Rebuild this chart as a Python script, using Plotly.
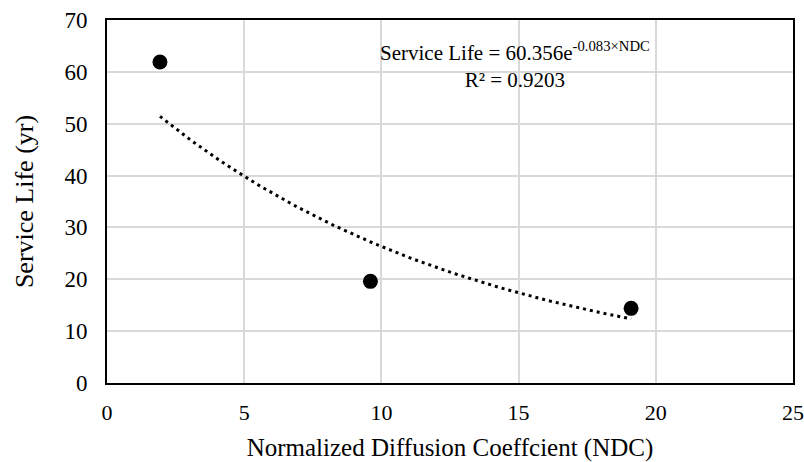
import numpy as np
import plotly.graph_objects as go

# Data
ndc = [1.93, 9.6, 19.1]
service_life = [61.9, 19.6, 14.4]

# Displayed exponential trendline coefficients
coef_a = 60.356
coef_b = -0.083
r_squared = 0.9203

x_ticks = [0, 5, 10, 15, 20, 25]
y_ticks = [0, 10, 20, 30, 40, 50, 60, 70]

FONT = "Liberation Serif"

trend_x = np.linspace(min(ndc), max(ndc), 100)
trend_y = coef_a * np.exp(coef_b * trend_x)

fig = go.Figure()
fig.add_trace(go.Scatter(
    x=trend_x, y=trend_y, mode="lines",
    line=dict(color="black", width=3, dash="3px,4px"),
    hoverinfo="skip", showlegend=False,
))
fig.add_trace(go.Scatter(
    x=ndc, y=service_life, mode="markers",
    marker=dict(color="black", size=15),
    showlegend=False,
))

fig.add_annotation(
    x=0.595, y=1.0, xref="paper", yref="paper", xanchor="center", yanchor="top",
    yshift=-16,
    text=f"Service Life = {coef_a}e<sup>{coef_b}×NDC</sup><br>R² = {r_squared}",
    showarrow=False, align="center",
    font=dict(family=FONT, size=21, color="black"),
)

axis_common = dict(
    showgrid=True, gridcolor="#d9d9d9", gridwidth=1.5,
    showline=True, linecolor="black", linewidth=2, mirror=True,
    zeroline=False, ticks="", automargin=False, ticklabeloverflow="allow",
)

fig.update_xaxes(
    range=[0, 25], tickvals=x_ticks,
    tickfont=dict(family=FONT, size=22, color="black"),
    title=dict(text="Normalized Diffusion Coeffcient (NDC)",
               font=dict(family=FONT, size=25, color="black"), standoff=14),
    ticklabelstandoff=9,
    **axis_common,
)
fig.update_yaxes(
    range=[0, 70], tickvals=y_ticks,
    tickfont=dict(family=FONT, size=23, color="black"),
    title=dict(text="Service Life (yr)",
               font=dict(family=FONT, size=26, color="black"), standoff=23),
    ticklabelstandoff=13,
    **axis_common,
)

fig.update_layout(
    width=804, height=462,
    margin=dict(l=107, r=11, t=20, b=79),
    plot_bgcolor="white", paper_bgcolor="white",
    font=dict(family=FONT, color="black"),
)

fig.write_html(
    "out.html",
    config={"displayModeBar": False},
    post_script="document.body.style.margin='0';document.body.style.overflow='hidden';",
)
